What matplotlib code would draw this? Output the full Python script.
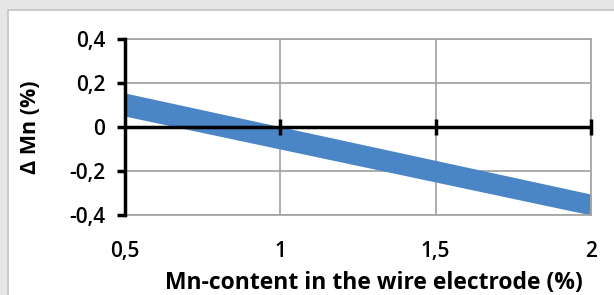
import matplotlib
matplotlib.use('Agg')
import matplotlib.pyplot as plt
from matplotlib.patches import Rectangle

# band endpoints
mn_wire = [0.5, 2.0]
delta_upper = [0.155, -0.305]
delta_lower = [0.05, -0.40]

x_ticks = [0.5, 1.0, 1.5, 2.0]
x_labels = ['0,5', '1', '1,5', '2']
y_ticks = [-0.4, -0.2, 0.0, 0.2, 0.4]
y_labels = ['-0,4', '-0,2', '0', '0,2', '0,4']

plt.rcParams['font.family'] = ['Open Sans', 'DejaVu Sans']

fig = plt.figure(figsize=(6.14, 2.95), dpi=100, facecolor='#e6e6e6')
# white panel behind the chart
fig.patches.append(Rectangle((8/614, -0.01), 1.0, 1 - 10/295 + 0.01, transform=fig.transFigure,
                             facecolor='white', edgecolor='#c4c4c4', lw=1.2, zorder=-5))

ax = fig.add_axes([124.5/614, 1 - 215/295, (591 - 124.5)/614, (215 - 39)/295])
ax.set_zorder(2)
ax.set_facecolor('none')

ax.fill_between(mn_wire, delta_lower, delta_upper, color='#4a85c6', lw=0, zorder=2)

ax.set_xlim(0.5, 2.0)
ax.set_ylim(-0.4, 0.4)
ax.set_xticks(x_ticks)
ax.set_xticklabels(x_labels)
ax.set_yticks(y_ticks)
ax.set_yticklabels(y_labels)

ax.grid(True, color='#a6a6a6', lw=1.3, zorder=1)
ax.set_axisbelow(True)
for s in ['top', 'right', 'bottom']:
    ax.spines[s].set_color('#a6a6a6')
    ax.spines[s].set_linewidth(1.3)
ax.spines['left'].set_color('black')
ax.spines['left'].set_linewidth(2.5)
ax.spines['left'].set_zorder(4)

ax.tick_params(axis='y', direction='out', length=6, width=2.5, color='black', pad=8, labelsize=15)
ax.tick_params(axis='x', length=0, pad=19, labelsize=15)
for lab in ax.get_xticklabels() + ax.get_yticklabels():
    lab.set_fontweight('semibold')

# zero line with crossing tick marks
ax.axhline(0, color='black', lw=2.5, zorder=3)
ax.plot(x_ticks[1:], [0] * 3, ls='none', marker='|', ms=12, mew=2.5, color='black', zorder=3, clip_on=False)

ax.set_xlabel('Mn-content in the wire electrode (%)', fontsize=16.5, fontweight='bold')
ax.xaxis.set_label_coords(0.535, -0.32)
ax.set_ylabel('Δ Mn (%)', fontsize=15.5, fontweight='bold')
ax.yaxis.set_label_coords(-0.18, 0.5)

fig.savefig('out.png', dpi=100, facecolor=fig.get_facecolor())
